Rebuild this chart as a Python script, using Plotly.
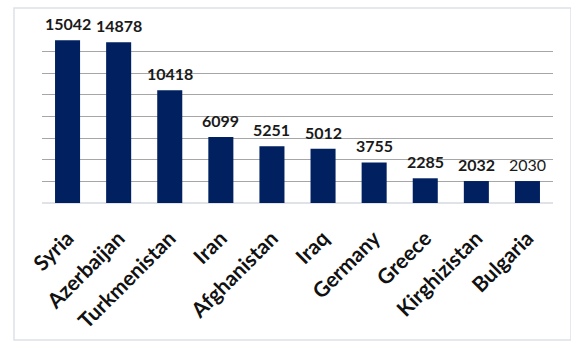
import plotly.graph_objects as go

countries = ["Syria", "Azerbaijan", "Turkmenistan", "Iran", "Afghanistan",
             "Iraq", "Germany", "Greece", "Kirghizistan", "Bulgaria"]
values = [15042, 14878, 10418, 6099, 5251, 5012, 3755, 2285, 2032, 2030]
label_weights = ["bold"] * 9 + ["normal"]

W, H = 571, 342
fig = go.Figure()
fig.add_trace(go.Bar(
    x=countries, y=values,
    marker=dict(color="#002060", line=dict(width=0)),
    width=0.49,
    hoverinfo="skip",
))

for c, v, w in zip(countries, values, label_weights):
    fig.add_annotation(
        x=c, y=v, text=f"<b>{v}</b>" if w == "bold" else str(v),
        showarrow=False, yanchor="bottom", yshift=5,
        font=dict(family="Lato", size=16, color="#1a1a1a"),
    )

# light frame round the chart
fig.add_shape(type="rect", xref="paper", yref="paper",
              x0=-28 / 511, x1=(571 - 42) / 511,
              y0=(342 - 340 - 139) / 173, y1=(342 - 8 - 139) / 173,
              line=dict(color="#dde1e6", width=1.5), layer="below")

fig.update_layout(
    width=W, height=H,
    margin=dict(l=42, r=18, t=30, b=139),
    paper_bgcolor="white", plot_bgcolor="white",
    showlegend=False,
    xaxis=dict(
        tickangle=-45, automargin=False,
        tickfont=dict(family="Lato", size=21, color="#111111", weight="bold"),
        ticklabelstandoff=18,
        showgrid=False, showline=False, ticks="",
        range=[-0.5, 9.5],
    ),
    yaxis=dict(
        range=[0, 16000], dtick=2000, showticklabels=False, automargin=False,
        showgrid=True, gridcolor="#a6a6a6", gridwidth=1,
        zeroline=True, zerolinecolor="#dfe3e8", zerolinewidth=2,
        ticks="",
    ),
)

fig.write_html("out.html")
